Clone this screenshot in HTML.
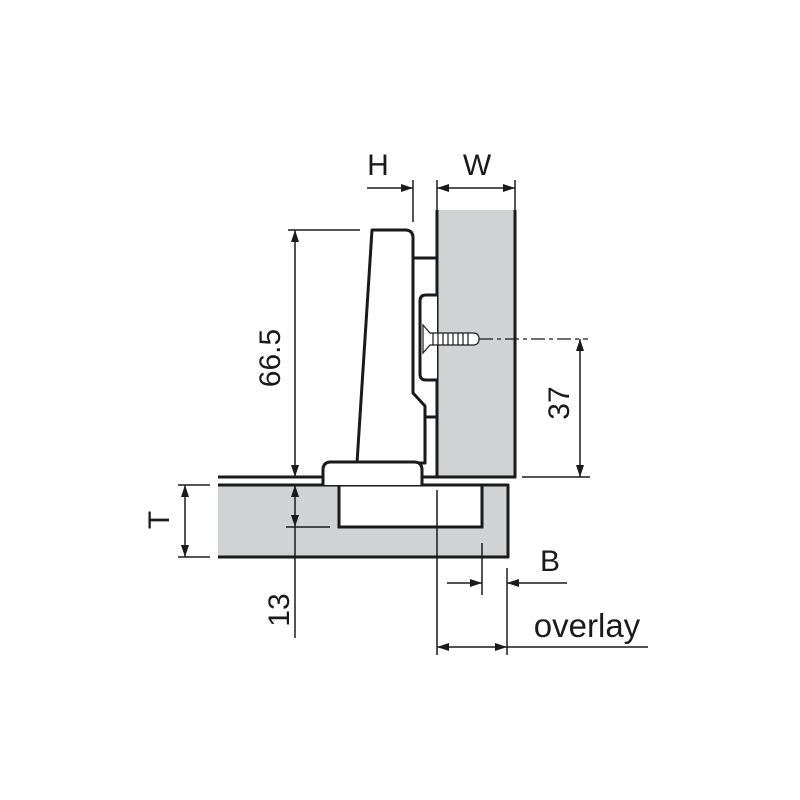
<!DOCTYPE html>
<html><head><style>body{margin:0;background:#fff}svg{display:block}text{font-family:"Liberation Sans",Arial,sans-serif;fill:#1a1a1a}</style></head>
<body>
<svg width="800" height="800" viewBox="0 0 800 800" xmlns="http://www.w3.org/2000/svg">
<defs>
<marker id="a" markerWidth="12" markerHeight="8" refX="12" refY="4" orient="auto-start-reverse" markerUnits="userSpaceOnUse"><path d="M0,0 L12,4 L0,8 Z" fill="#1a1a1a"/></marker>
</defs>
<g stroke="#1a1a1a" fill="none">
<rect x="218" y="485" width="290" height="72" fill="#d1d2d4" stroke="none"/>
<rect x="339" y="485" width="143" height="42" fill="#fff" stroke-width="3"/>
<line x1="218" y1="485" x2="509" y2="485" stroke-width="3"/>
<line x1="218" y1="557" x2="509" y2="557" stroke-width="3"/>
<line x1="508" y1="484" x2="508" y2="558" stroke-width="3"/>
<rect x="437" y="210" width="78" height="267" fill="#d1d2d4" stroke="none"/>
<line x1="437" y1="210" x2="437" y2="478" stroke-width="3"/>
<line x1="515" y1="210" x2="515" y2="478" stroke-width="3"/>
<line x1="218" y1="477" x2="516" y2="477" stroke-width="3"/>
<path d="M414,258 H437 M425,417 H437" stroke-width="3"/>
<path d="M437,295 H426 Q420,295 420,301 V374 Q420,380 426,380 H437" stroke-width="3" fill="#fff"/>
<path d="M372,230 H405 Q413,230 413,238 V393 L425,406 V463 H357 Z" fill="#fff" stroke-width="3" stroke-linejoin="round"/>
<path d="M323,485 V470 Q323,462 331,462 H414 Q422,462 422,470 V485" fill="#fff" stroke-width="3"/>
<g stroke-width="1.2" fill="#fff">
<path d="M423,325 L430,333 H473 Q479,333 479,339 Q479,345 473,345 H430 L423,353 Z"/>
<path d="M433,333 V345 M438,333 V345 M443,333 V345 M448,333 V345 M453,333 V345 M458,333 V345 M463,333 V345 M468,333 V345"/>
</g>
<path d="M479,339 H588" stroke-width="1.3" stroke-dasharray="14,4,4,4"/>
<g stroke-width="1.5">
<line x1="437" y1="180" x2="437" y2="210"/><line x1="515" y1="180" x2="515" y2="210"/>
<line x1="437" y1="188" x2="515" y2="188" marker-start="url(#a)" marker-end="url(#a)"/>
<line x1="413" y1="180" x2="413" y2="222"/>
<line x1="367" y1="188" x2="413" y2="188" marker-end="url(#a)"/>
<line x1="288" y1="230" x2="360" y2="230"/>
<line x1="295" y1="230" x2="295" y2="477" marker-start="url(#a)" marker-end="url(#a)"/>
<line x1="295" y1="485" x2="295" y2="527" marker-start="url(#a)" marker-end="url(#a)"/>
<line x1="295" y1="527" x2="295" y2="638"/>
<line x1="286" y1="527" x2="330" y2="527"/>
<line x1="178" y1="485" x2="210" y2="485"/><line x1="178" y1="557" x2="210" y2="557"/>
<line x1="185" y1="485" x2="185" y2="557" marker-start="url(#a)" marker-end="url(#a)"/>
<line x1="522" y1="477" x2="590" y2="477"/>
<line x1="580" y1="339" x2="580" y2="477" marker-start="url(#a)" marker-end="url(#a)"/>
<line x1="482" y1="543" x2="482" y2="595"/>
<line x1="447" y1="583" x2="482" y2="583" marker-end="url(#a)"/>
<line x1="507" y1="568" x2="507" y2="655"/>
<line x1="567" y1="583" x2="507" y2="583" marker-end="url(#a)"/>
<line x1="437" y1="490" x2="437" y2="655"/>
<line x1="437" y1="647" x2="507" y2="647" marker-start="url(#a)" marker-end="url(#a)"/>
<line x1="507" y1="647" x2="648" y2="647"/>
</g>
</g>
<text x="378" y="175" font-size="30" text-anchor="middle">H</text>
<text x="477" y="175" font-size="30" text-anchor="middle">W</text>
<text x="550" y="571" font-size="30" text-anchor="middle">B</text>
<text x="587" y="637" font-size="33" text-anchor="middle">overlay</text>
<text transform="translate(280,358) rotate(-90)" font-size="30" text-anchor="middle">66.5</text>
<text transform="translate(569,403) rotate(-90)" font-size="30" text-anchor="middle">37</text>
<text transform="translate(169,520) rotate(-90)" font-size="30" text-anchor="middle">T</text>
<text transform="translate(289,610) rotate(-90)" font-size="30" text-anchor="middle">13</text>
</svg>
</body></html>
